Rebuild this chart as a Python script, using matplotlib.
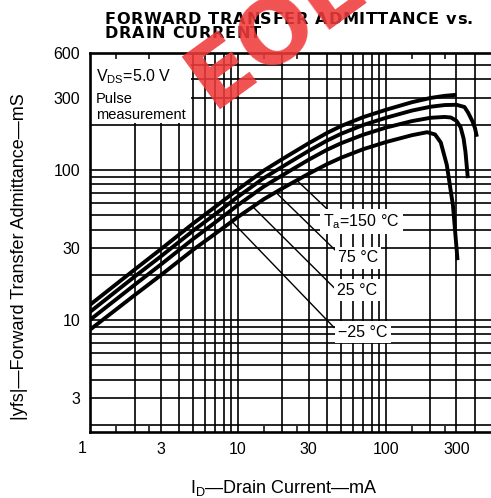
import numpy as np
import matplotlib
matplotlib.use('Agg')
import matplotlib.pyplot as plt
from matplotlib.patches import Rectangle
from matplotlib.ticker import NullLocator, FixedLocator

plt.rcParams['font.family'] = ['Liberation Sans', 'DejaVu Sans']
plt.rcParams['mathtext.fontset'] = 'custom'
plt.rcParams['mathtext.rm'] = 'Liberation Sans'
plt.rcParams['mathtext.it'] = 'Liberation Sans'

# ---- data (ID in mA, |yfs| in mS) ----
id_c1 = [1, 2, 3, 5, 7, 10, 15, 20, 30, 40, 50, 70, 100, 150, 200, 250, 300]
yfs_c1 = [12.6, 21.6, 29.5, 44, 56.5, 74, 99, 118, 150, 176, 196, 224, 251, 282, 301, 311, 316]

id_c2 = [1, 2, 3, 5, 7, 10, 15, 20, 30, 40, 50, 70, 100, 150, 200, 250, 300, 340, 360, 385, 400, 412]
yfs_c2 = [11.3, 19.4, 26.4, 39.4, 50.5, 66.1, 88.3, 105, 133.5, 156.5, 174, 198.5, 222, 248, 263, 270, 271,
          262, 240, 210, 190, 166]

id_c3 = [1, 2, 3, 5, 7, 10, 15, 20, 30, 40, 50, 70, 100, 150, 200, 250, 275, 300, 320, 335, 345, 358]
yfs_c3 = [10, 17.1, 23.3, 34.7, 44.5, 58.2, 77.5, 92, 116.5, 136, 150.5, 171, 191, 211, 222, 225, 223,
          212, 192, 162, 132, 88]

id_c4 = [1, 2, 3, 5, 7, 10, 15, 20, 30, 40, 50, 70, 100, 150, 190, 215, 235, 258, 284, 305]
yfs_c4 = [8.6, 14.6, 19.8, 29.4, 37.4, 48.5, 63.8, 75.3, 94, 109, 120.5, 137, 153, 170, 178, 172, 152,
          108, 58, 25]

temp_labels = ['T$_\\mathregular{a}$=150 °C', '75 °C', '25 °C', '\u221225 °C']
label_pos_id = [37.6, 47.4, 46.6, 47.4]
label_pos_y = [45, 25.9, 15.8, 8.3]
leader_start_id = [25, 18, 12.6, 9.1]
leader_end_id = [39.9, 45.2, 44.6, 44.6]
leader_end_y = [55, 29.3, 16.4, 8.9]

x_ticks = [3, 10, 30, 100, 300]
x_ticklabels = ['3', '10', '30', '100', '300']
y_ticks = [3, 10, 30, 100, 300, 600]
y_ticklabels = ['3', '10', '30', '100', '300', '600']
x_grid = [2, 3, 4, 5, 6, 7, 8, 9, 10, 20, 30, 40, 50, 60, 70, 80, 90, 100, 200, 300, 400]
y_grid = [2, 3, 4, 5, 6, 7, 8, 9, 10, 20, 30, 40, 50, 60, 70, 80, 90, 100, 200, 300, 400, 500]
x_small_ticks = [1.5, 2.5, 15, 25, 150, 250]

title_line1 = 'FORWARD TRANSFER ADMITTANCE vs.'
title_line2 = 'DRAIN CURRENT'

W, H = 491, 498
fig = plt.figure(figsize=(W / 100, H / 100), dpi=100)
ax = fig.add_axes([90 / W, 66 / H, (501 - 90) / W, (432 - 53) / H])
ax.set_xscale('log')
ax.set_yscale('log')
ax.set_xlim(1, 600)
ax.set_ylim(1.79, 600)

for v in x_grid:
    ax.axvline(v, color='black', lw=1.2, zorder=1)
for v in y_grid:
    ax.axhline(v, color='black', lw=1.2, zorder=1)

# white area behind the conditions text
ax.add_patch(Rectangle((1, 205), 4.8 - 1, 600 - 205, facecolor='white',
                       edgecolor='none', zorder=1.5))

for xs, ys in [(id_c1, yfs_c1), (id_c2, yfs_c2), (id_c3, yfs_c3), (id_c4, yfs_c4)]:
    ax.plot(xs, ys, color='black', lw=2.8, solid_capstyle='butt',
            solid_joinstyle='round', zorder=3)

# leaders and temperature labels
lx4 = np.log10(id_c4)
ly4 = np.log10(yfs_c4)
for sid, eid, ey in zip(leader_start_id, leader_end_id, leader_end_y):
    sy = 10 ** np.interp(np.log10(sid), lx4, ly4)
    ax.plot([sid, eid], [sy, ey], color='black', lw=1.0, zorder=2.5)
for txt, px, py in zip(temp_labels, label_pos_id, label_pos_y):
    ax.text(px, py, txt, fontsize=11.5, ha='left', va='center', zorder=4,
            bbox=dict(boxstyle='square,pad=0.2', facecolor='white', edgecolor='none'))

ax.text(1.1, 420, 'V$_\\mathregular{DS}$=5.0 V', fontsize=11.5, ha='left', va='center', zorder=4)
ax.text(1.1, 295, 'Pulse', fontsize=10.5, ha='left', va='center', zorder=4)
ax.text(1.1, 232, 'measurement', fontsize=10.5, ha='left', va='center', zorder=4)

for s in ['left', 'bottom', 'top']:
    ax.spines[s].set_linewidth(1.9)
    ax.spines[s].set_zorder(5)
ax.spines['right'].set_visible(False)

ax.xaxis.set_major_locator(FixedLocator(x_ticks))
ax.set_xticklabels(x_ticklabels)
ax.xaxis.set_minor_locator(FixedLocator(x_small_ticks))
ax.xaxis.set_minor_formatter(plt.NullFormatter())
ax.yaxis.set_major_locator(FixedLocator(y_ticks))
ax.set_yticklabels(y_ticklabels)
ax.yaxis.set_minor_locator(NullLocator())
ax.tick_params(axis='x', which='major', length=0, pad=7, labelsize=11.5)
ax.tick_params(axis='y', which='major', length=0, pad=7, labelsize=11.5)
ax.tick_params(axis='x', which='minor', direction='in', length=4, width=1.1,
               top=True, bottom=True)
ax.annotate('1', xy=(1, 0), xycoords=('data', 'axes fraction'), xytext=(-8, -9),
            textcoords='offset pixels', ha='center', va='top', fontsize=11.5)

fig.text(284 / W, 1 - 488 / H, 'I$_\\mathregular{D}$\u2014Drain Current\u2014mA',
         fontsize=13, ha='center', va='center')
fig.text(20 / W, 1 - 257 / H, '|yfs|\u2014Forward Transfer Admittance\u2014mS',
         fontsize=13, ha='center', va='center', rotation=90)

# letter-spaced bold title
renderer = fig.canvas.get_renderer()
title_kw = dict(fontsize=11.6, fontweight='bold', family=['DejaVu Sans'])


def text_width(s):
    t = fig.text(0, 0, s + 'X', **title_kw)
    w1 = t.get_window_extent(renderer).width
    t.remove()
    t = fig.text(0, 0, 'X', **title_kw)
    w2 = t.get_window_extent(renderer).width
    t.remove()
    return w1 - w2


def spaced_title(s, x0, yc, gap):
    for i, ch in enumerate(s):
        if ch == ' ':
            continue
        xp = x0 + text_width(s[:i]) + i * gap
        fig.text(xp / W, 1 - yc / H, ch, ha='left', va='center', **title_kw)


base_w = text_width(title_line1)
gap = (368 - base_w) / (len(title_line1) - 1)
spaced_title(title_line1, 105, 19, gap)
spaced_title(title_line2, 105, 34, gap)

fig.text(276 / W, 1 - 33 / H, 'EOL', fontsize=64, fontweight='bold',
         family=['DejaVu Sans'], color='#f03a3a', alpha=0.88, rotation=36,
         ha='center', va='center', zorder=10)

fig.savefig('out.png', dpi=100)
